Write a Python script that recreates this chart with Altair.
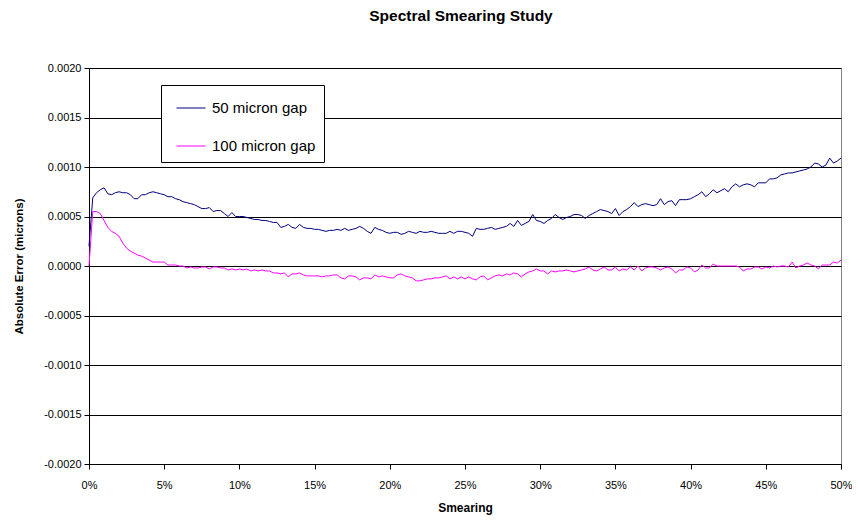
import altair as alt
import pandas as pd

# Smearing fraction sampled every 0.25 % from 0 % to 50 %
smearing_step = 0.0025

# Absolute error in units of 1e-4 microns
gap50_e4 = [
    2.0, 6.9, 7.4, 7.7, 7.9, 7.3, 7.2, 7.4, 7.5, 7.4,
    7.4, 7.2, 6.8, 6.8, 7.2, 7.2, 7.4, 7.5, 7.4, 7.3,
    7.2, 7.0, 7.0, 6.8, 6.7, 6.5, 6.4, 6.3, 6.2, 6.0,
    5.8, 5.8, 5.9, 5.5, 5.6, 5.6, 5.3, 5.0, 5.4, 5.0,
    5.0, 5.0, 4.9, 4.8, 4.7, 4.7, 4.6, 4.6, 4.5, 4.4,
    4.4, 3.9, 4.0, 4.2, 3.9, 3.8, 4.2, 3.9, 3.8, 3.8,
    3.7, 3.7, 3.6, 3.5, 3.6, 3.6, 3.7, 3.6, 3.8, 3.6,
    3.7, 3.8, 4.0, 3.8, 3.5, 3.3, 3.9, 3.7, 3.6, 3.4,
    3.3, 3.4, 3.4, 3.2, 3.3, 3.5, 3.4, 3.3, 3.5, 3.4,
    3.4, 3.5, 3.4, 3.3, 3.3, 3.3, 3.5, 3.3, 3.5, 3.5,
    3.4, 3.3, 3.0, 3.8, 3.7, 3.7, 3.8, 3.9, 3.7, 3.8,
    3.9, 4.0, 4.3, 4.0, 4.6, 4.1, 4.3, 4.5, 5.2, 4.6,
    4.5, 4.3, 4.6, 4.8, 5.2, 4.9, 4.7, 4.9, 5.0, 5.2,
    5.2, 5.1, 4.8, 5.1, 5.3, 5.5, 5.7, 5.6, 5.5, 5.3,
    5.8, 5.1, 5.5, 5.7, 6.0, 6.4, 6.0, 6.2, 6.3, 6.2,
    6.1, 6.2, 6.8, 6.2, 6.5, 6.6, 6.1, 6.7, 6.7, 6.7,
    6.8, 7.0, 7.2, 7.5, 7.0, 7.3, 7.7, 7.4, 7.6, 7.8,
    7.5, 8.0, 8.3, 8.0, 8.2, 8.3, 8.2, 8.0, 8.4, 8.4,
    8.4, 8.8, 8.8, 8.9, 9.2, 9.3, 9.4, 9.4, 9.5, 9.6,
    9.7, 9.8, 10.0, 10.4, 10.3, 10.0, 10.2, 10.9, 10.4, 10.6,
    10.9,
]

gap100_e4 = [
    0.0, 5.5, 5.5, 5.3, 4.6, 3.9, 3.5, 3.3, 3.0, 2.3,
    1.8, 1.5, 1.3, 1.1, 1.0, 0.8, 0.6, 0.4, 0.4, 0.4,
    0.4, 0.1, 0.1, 0.1, 0.0, 0.0, -0.2, -0.1, -0.2, -0.2,
    -0.1, -0.1, -0.3, -0.1, -0.1, -0.2, -0.2, -0.4, -0.3, -0.4,
    -0.3, -0.4, -0.3, -0.5, -0.4, -0.5, -0.4, -0.5, -0.5, -0.7,
    -0.7, -0.8, -0.7, -1.1, -0.8, -0.8, -0.7, -0.9, -1.0, -1.0,
    -1.0, -1.0, -1.1, -1.0, -1.0, -0.9, -0.9, -1.2, -1.3, -1.0,
    -1.0, -1.1, -1.4, -1.2, -1.2, -1.3, -0.9, -1.1, -1.0, -1.1,
    -1.2, -1.2, -0.9, -0.8, -1.0, -1.1, -1.2, -1.5, -1.5, -1.4,
    -1.3, -1.3, -1.2, -1.2, -1.1, -1.0, -1.3, -1.1, -1.3, -1.1,
    -1.3, -1.1, -1.3, -1.4, -1.1, -1.0, -1.4, -1.2, -1.0, -0.9,
    -1.0, -0.8, -0.9, -0.7, -0.8, -1.1, -0.8, -0.6, -0.5, -0.3,
    -0.5, -0.5, -0.8, -0.5, -0.6, -0.5, -0.5, -0.4, -0.5, -0.6,
    -0.5, -0.4, -0.3, -0.1, -0.4, -0.5, -0.3, -0.1, -0.4, -0.4,
    -0.1, -0.5, -0.3, -0.4, -0.1, -0.4, 0.0, -0.5, -0.2, -0.1,
    -0.1, -0.2, -0.4, -0.2, -0.1, -0.3, -0.7, -0.4, -0.4, -0.1,
    -0.2, -0.6, -0.4, 0.1, -0.2, -0.2, 0.2, 0.0, 0.0, 0.0,
    0.0, 0.0, 0.0, -0.1, -0.5, -0.3, -0.3, -0.1, -0.1, -0.3,
    -0.1, -0.2, 0.0, -0.1, 0.0, 0.0, -0.1, 0.4, -0.2, 0.0,
    0.1, 0.3, 0.1, 0.0, -0.3, 0.1, 0.1, 0.1, 0.4, 0.3,
    0.6,
]

series_names = ["50 micron gap", "100 micron gap"]
series_colors = ["#000080", "#FF00FF"]
x_ticks = [0, 0.05, 0.10, 0.15, 0.20, 0.25, 0.30, 0.35, 0.40, 0.45, 0.50]
y_ticks = [-0.002, -0.0015, -0.001, -0.0005, 0, 0.0005, 0.001, 0.0015, 0.002]

smearing = [round(i * smearing_step, 4) for i in range(len(gap50_e4))]
rows = []
for name, vals in zip(series_names, [gap50_e4, gap100_e4]):
    for s, v in zip(smearing, vals):
        rows.append({"Smearing": s, "Error": v / 10000.0, "Series": name})
df = pd.DataFrame(rows)

FONT = "Liberation Sans"

chart = alt.Chart(df).mark_line(strokeWidth=1).encode(
    x=alt.X(
        "Smearing:Q",
        scale=alt.Scale(domain=[0, 0.5], nice=False, zero=False),
        axis=alt.Axis(
            values=x_ticks, format=".0%", title="Smearing", grid=False,
            labelFlush=False, labelOverlap=False,
            labelFontSize=11, titleFontSize=12, titleFontWeight="bold",
            tickSize=5, labelPadding=10, titlePadding=12,
            domainColor="#000000", tickColor="#000000",
            labelColor="#000000", titleColor="#000000",
        ),
    ),
    y=alt.Y(
        "Error:Q",
        scale=alt.Scale(domain=[-0.002, 0.002], nice=False, zero=False),
        axis=alt.Axis(
            values=y_ticks, format=".4f",
            labelExpr="replace(format(datum.value, '.4f'), '\u2212', '-')",
            title="Absolute Error (microns)",
            grid=True, gridColor="#000000", gridWidth=1, gridOpacity=1,
            labelFlush=False, labelOverlap=False,
            labelFontSize=11, titleFontSize=11.5, titleFontWeight="bold",
            tickSize=5, labelPadding=3, titlePadding=19,
            domainColor="#000000", tickColor="#000000",
            labelColor="#000000", titleColor="#000000",
        ),
    ),
    color=alt.Color(
        "Series:N",
        sort=series_names,
        scale=alt.Scale(domain=series_names, range=series_colors),
        legend=alt.Legend(
            title=None, orient="none", legendX=72, legendY=17,
            direction="vertical", fillColor="#FFFFFF", strokeColor="#000000",
            padding=8, symbolType="stroke", symbolSize=841,
            symbolStrokeWidth=1, symbolOffset=7, labelFontSize=15,
            labelOffset=6, rowPadding=15, labelColor="#000000",
            labelFont=FONT,
        ),
    ),
).properties(
    width=752,
    height=396,
    title=alt.TitleParams(
        "Spectral Smearing Study", fontSize=15.5, fontWeight="bold",
        anchor="middle", offset=38, dx=-4, color="#000000", font=FONT,
    ),
    padding={"left": 81, "top": 60, "right": 11, "bottom": 53},
    autosize=alt.AutoSizeParams(type="none"),
).configure(
    font=FONT,
).configure_view(
    stroke="#808080", strokeWidth=1,
)

chart.save("out.html", embed_options={"renderer": "svg", "actions": False})
